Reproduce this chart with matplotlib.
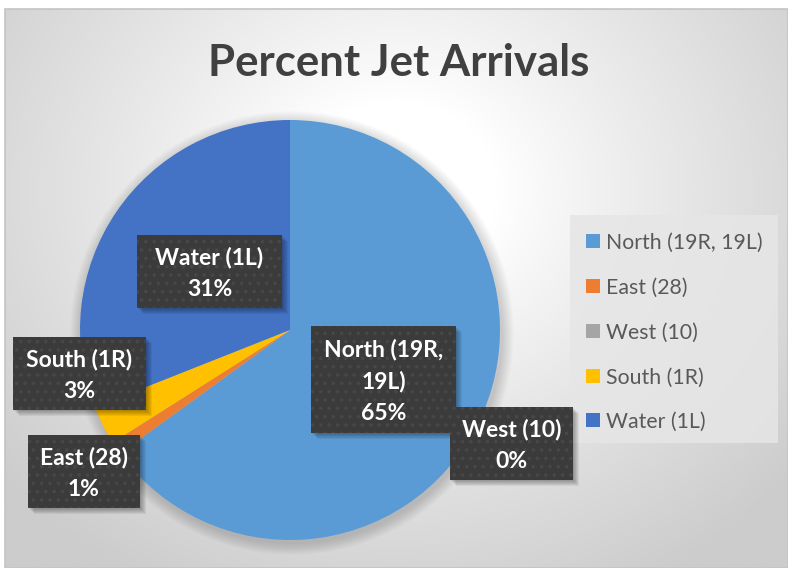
import numpy as np
import matplotlib
matplotlib.use("Agg")
import matplotlib.pyplot as plt
from matplotlib.patches import Rectangle, Circle

# ---- data ----
categories = ["North (19R, 19L)", "East (28)", "West (10)", "South (1R)", "Water (1L)"]
percents = [65, 1, 0, 3, 31]
colors = ["#5B9BD5", "#ED7D31", "#A5A5A5", "#FFC000", "#4472C4"]
label_lines = [["North (19R,", "19L)"], ["East (28)"], ["West (10)"], ["South (1R)"], ["Water (1L)"]]
title = "Percent Jet Arrivals"

W, H = 788, 568
plt.rcParams['font.family'] = ['Lato', 'DejaVu Sans']
plt.rcParams['hatch.linewidth'] = 1.4

fig = plt.figure(figsize=(W / 100, H / 100), dpi=100)
fig.patch.set_facecolor("white")
ax = fig.add_axes([0, 0, 1, 1])

def Y(y):
    return H - y

# ---- pie ----
pcx, pcy, R = 290, 330, 210
ax.pie(percents, colors=colors, startangle=90, counterclock=False, center=(pcx, Y(pcy)), radius=R,
       wedgeprops=dict(linewidth=0, zorder=3), frame=True)
ax.set_xlim(0, W)
ax.set_ylim(0, H)
ax.set_aspect("equal")
ax.axis("off")

# ---- background radial gradient (chart area) ----
x0, x1, yt, yb = 5, W, 9, H
xs = np.linspace(x0, x1, 400)
ys = np.linspace(yt, yb, 300)
XX, YY = np.meshgrid(xs, ys)
cx, cy = 396, 190
d = np.sqrt(((XX - cx) / 1.15) ** 2 + (YY - cy) ** 2)
t = np.clip((d - 90) / 360, 0, 1) ** 0.9
val = 1.0 - t * (1.0 - 0.80)
img = np.dstack([val, val, val])
ax.imshow(img, extent=[x0, x1, Y(yb), Y(yt)], origin="upper", zorder=0, interpolation="bilinear")
ax.add_patch(Rectangle((x0, Y(yb)), x1 - x0, yb - yt, fill=False, edgecolor="#c4c4c4", lw=1.2, zorder=1))
ax.set_xlim(0, W)
ax.set_ylim(0, H)

# ---- pie shadow ----
for i in range(10):
    ax.add_patch(Circle((pcx + 2, Y(pcy) - 3), R + 1 + i * 1.2, facecolor="#000000", alpha=0.016, lw=0, zorder=2))

# ---- data label boxes ----
boxes = {  # x0, y0, x1, y1 in image coords
    "Water (1L)": (137, 235, 282, 308),
    "North (19R, 19L)": (311, 326, 456, 433),
    "South (1R)": (13, 337, 146, 410),
    "East (28)": (28, 435, 140, 508),
    "West (10)": (450, 407, 573, 480),
}
order = ["Water (1L)", "North (19R, 19L)", "South (1R)", "East (28)", "West (10)"]
for name in order:
    i = categories.index(name)
    bx0, by0, bx1, by1 = boxes[name]
    for k in range(6):
        off = 1 + k
        ax.add_patch(Rectangle((bx0 + off, Y(by1) - off), bx1 - bx0, by1 - by0,
                               facecolor="black", alpha=0.06, lw=0, zorder=5))
    ax.add_patch(Rectangle((bx0, Y(by1)), bx1 - bx0, by1 - by0, facecolor="#3b3b3b",
                           edgecolor="#474747", hatch="..", lw=0, zorder=6))
    lines = label_lines[i] + [f"{percents[i]}%"]
    n = len(lines)
    mid = (by0 + by1) / 2
    step = 32
    for j, ln in enumerate(lines):
        yy = mid + (j - (n - 1) / 2) * step
        ax.text((bx0 + bx1) / 2, Y(yy), ln, ha="center", va="center_baseline", color="white",
                fontsize=16.5, fontweight="bold", zorder=7)

# ---- legend ----
ax.add_patch(Rectangle((570, Y(443)), 208, 228, facecolor="#e6e6e6", alpha=0.85, lw=0, zorder=3))
leg_y = [241, 286, 331, 376, 420]
for i, name in enumerate(categories):
    ax.add_patch(Rectangle((586, Y(leg_y[i]) - 7), 14, 14, facecolor=colors[i], lw=0, zorder=4))
    ax.text(606, Y(leg_y[i]), name, ha="left", va="center_baseline", color="#595959", fontsize=15.3, zorder=4)

# ---- title ----
ax.text(399, Y(60), title, ha="center", va="center_baseline", color="#404040", fontsize=31.5, fontweight="bold", zorder=4)

fig.savefig("out.png", dpi=100, facecolor="white")
